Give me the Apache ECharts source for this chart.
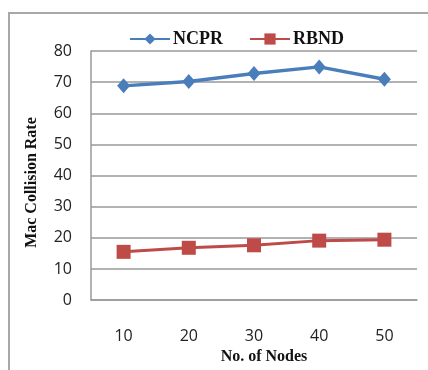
<!DOCTYPE html>
<html><head><meta charset="utf-8">
<script src="https://cdn.jsdelivr.net/npm/echarts@6/dist/echarts.min.js"></script>
<style>html,body{margin:0;padding:0;background:#fff;overflow:hidden}#c{width:428px;height:370px}</style>
</head><body><div id="c"></div>
<script>
var categories = ['10', '20', '30', '40', '50'];
var ncpr = [68.8, 70.2, 72.8, 74.9, 70.9];
var rbnd = [15.5, 16.8, 17.6, 19.1, 19.4];
var yTicks = {min: 0, max: 80, interval: 10};

var chart = echarts.init(document.getElementById('c'), null, {renderer: 'canvas'});
chart.setOption({
  animation: false,
  backgroundColor: '#fff',
  graphic: [{
    type: 'polyline',
    shape: {points: [[9, 380], [9, 13], [440, 13]]},
    style: {fill: null, stroke: '#a8a8a8', lineWidth: 2}, z: -1
  }],
  legend: {
    left: 124, top: 25, itemGap: 26, itemWidth: 40, itemHeight: 14,
    textStyle: {fontFamily: 'Liberation Serif', fontWeight: 'bold', fontSize: 18, color: '#111', padding: [0,0,0,-2]},
    data: ['NCPR', 'RBND']
  },
  grid: {left: 91, right: 11, top: 51, bottom: 63, containLabel: false},
  xAxis: {
    type: 'category', data: categories, boundaryGap: true,
    name: 'No. of Nodes', nameLocation: 'middle', nameGap: 47,
    nameTextStyle: {fontFamily: 'Liberation Serif', fontWeight: 'bold', fontSize: 16, color: '#111', padding: [0,0,0,20]},
    axisLine: {show: true, lineStyle: {color: '#999', width: 1.5}},
    axisTick: {show: false},
    axisLabel: {margin: 28, fontFamily: 'Open Sans', fontSize: 16, color: '#222'}
  },
  yAxis: {
    type: 'value', min: yTicks.min, max: yTicks.max, interval: yTicks.interval,
    name: 'Mac Collision Rate', nameLocation: 'middle', nameGap: 51, nameRotate: 90,
    nameTextStyle: {fontFamily: 'Liberation Serif', fontWeight: 'bold', fontSize: 16, color: '#111', padding: [0,14,0,0]},
    axisLine: {show: true, lineStyle: {color: '#999', width: 1.5}},
    axisTick: {show: false},
    splitLine: {show: true, lineStyle: {color: '#999', width: 1.5}},
    axisLabel: {margin: 19, fontFamily: 'Open Sans', fontSize: 16, color: '#222'}
  },
  series: [{
    name: 'NCPR', type: 'line', data: ncpr,
    symbol: 'diamond', symbolSize: [13, 15],
    itemStyle: {color: '#4A7EBB'},
    lineStyle: {color: '#4A7EBB', width: 3.5}
  }, {
    name: 'RBND', type: 'line', data: rbnd,
    symbol: 'rect', symbolSize: 14,
    itemStyle: {color: '#BE4B48'},
    lineStyle: {color: '#BE4B48', width: 3}
  }]
});
</script></body></html>
